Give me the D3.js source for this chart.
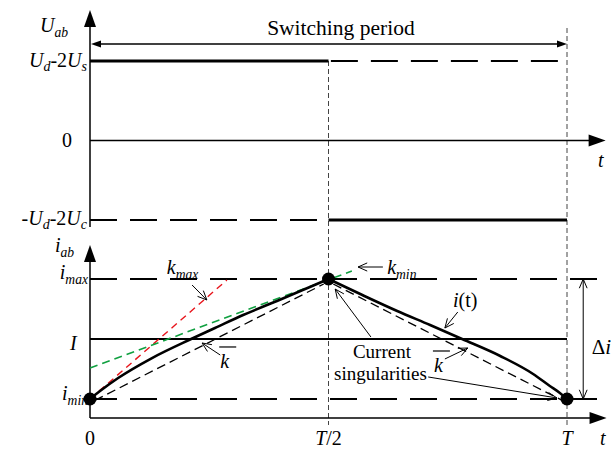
<!DOCTYPE html>
<html>
<head>
<meta charset="utf-8">
<script src="https://cdn.jsdelivr.net/npm/d3@7"></script>
<style>
  body { margin: 0; background: #fff; }
  svg { display: block; }
  text { font-family: "Liberation Serif", "Times New Roman", serif; fill: #000; }
</style>
</head>
<body>
<svg id="chart" width="611" height="449"></svg>
<script>
// ---- data -------------------------------------------------------------
// time as a fraction of the switching period T
const timeTicks = [0, 0.5, 1];
const timeTickLabels = [["", "0"], ["T", "/2"], ["T", ""]];

// bridge voltage: +1 = U_d-2U_s, 0, -1 = -U_d-2U_c
const voltageLevels = [1, 0, -1];
const highInterval = [0, 0.5];   // U_d-2U_s applied
const lowInterval = [0.5, 1];    // -U_d-2U_c applied

// current levels: i_min, I, i_max (normalised)
const currentLevels = [-1, 0, 1];

// i(t) during the rising half
const currentRise = [
  [0.000, -1.000], [0.021, -0.867], [0.059, -0.650], [0.130, -0.317],
  [0.212, 0.000], [0.262, 0.183], [0.321, 0.400], [0.392, 0.633],
  [0.461, 0.867], [0.500, 1.000]
];
// i(t) during the falling half
const currentFall = [
  [0.500, 1.000], [0.571, 0.733], [0.644, 0.467], [0.713, 0.233],
  [0.780, 0.000], [0.860, -0.283], [0.929, -0.583], [0.964, -0.783],
  [0.985, -0.900], [1.000, -1.000]
];

// slopes: k_max (initial tangent), k_min (tangent at the peak), mean slope chords
const kMaxLine = [[0, -1], [0.287, 0.983]];
const kMinLine = [[0, -0.483], [0.549, 1.133]];
const kMeanRise = [[0.01, -0.99], [0.49, 0.95]];
const kMeanFall = [[0.51, 0.95], [0.99, -0.99]];

// current singularities (start, peak and end of period)
const singularities = [[0, -1], [0.5, 1], [1, -1]];

// ---- scales -----------------------------------------------------------
const svg = d3.select("#chart");
const x = d3.scaleLinear().domain([0, 1]).range([90, 567]);
const yU = d3.scaleLinear().domain([-1, 1]).range([220, 61]);
const yI = d3.scaleLinear().domain([-1, 1]).range([399, 279]);

const lineU = d3.line().x(d => x(d[0])).y(d => yU(d[1]));
const lineI = d3.line().x(d => x(d[0])).y(d => yI(d[1]));
const curveI = d3.line().x(d => x(d[0])).y(d => yI(d[1])).curve(d3.curveMonotoneX);

// ---- helpers ----------------------------------------------------------
function filledArrow(g, x1, y1, x2, y2, len, half) {
  const a = Math.atan2(y2 - y1, x2 - x1);
  const bx = x2 - len * Math.cos(a), by = y2 - len * Math.sin(a);
  const px = -Math.sin(a) * half, py = Math.cos(a) * half;
  g.append("path")
    .attr("d", `M${x2},${y2}L${bx + px},${by + py}L${bx - px},${by - py}Z`)
    .attr("fill", "#000");
}
function openHead(g, x1, y1, x2, y2, len, ang, w) {
  const a = Math.atan2(y2 - y1, x2 - x1);
  const p1 = [x2 - len * Math.cos(a - ang), y2 - len * Math.sin(a - ang)];
  const p2 = [x2 - len * Math.cos(a + ang), y2 - len * Math.sin(a + ang)];
  g.append("path")
    .attr("d", `M${p1[0]},${p1[1]}L${x2},${y2}L${p2[0]},${p2[1]}`)
    .attr("fill", "none").attr("stroke", "#000").attr("stroke-width", w || 1);
}
function pointer(g, from, to, scaleY) {
  const x1 = x(from[0]), y1 = scaleY(from[1]), x2 = x(to[0]), y2 = scaleY(to[1]);
  g.append("line").attr("x1", x1).attr("y1", y1).attr("x2", x2).attr("y2", y2)
    .attr("stroke", "#000").attr("stroke-width", 1);
  openHead(g, x1, y1, x2, y2, 10, 0.42, 1);
}
// label with italic main symbol and subscript
function subLabel(g, px, py, main, sub, anchor, size) {
  const fs = size || 20;
  const t = g.append("text").attr("x", px).attr("y", py)
    .attr("text-anchor", anchor || "start").attr("font-size", fs);
  t.append("tspan").attr("font-style", "italic").text(main);
  if (sub) t.append("tspan").attr("font-style", "italic")
    .attr("font-size", fs * 0.68).attr("dy", 5).text(sub);
  return t;
}

const g = svg.append("g");

// ---- vertical dashed period markers ---------------------------------
g.append("line").attr("x1", x(0.5)).attr("x2", x(0.5))
  .attr("y1", yU(1)).attr("y2", yI(-1.433))
  .attr("stroke", "#444").attr("stroke-width", 1).attr("stroke-dasharray", "5,3");
g.append("line").attr("x1", x(1)).attr("x2", x(1))
  .attr("y1", yU(1.415)).attr("y2", yI(-1.433))
  .attr("stroke", "#444").attr("stroke-width", 1).attr("stroke-dasharray", "5,3");

// ---- top panel: bridge voltage -------------------------------------
const axU = g.append("g");
axU.append("line").attr("x1", x(0)).attr("x2", x(0))
  .attr("y1", yU(-1.088)).attr("y2", yU(1.59)).attr("stroke", "#000").attr("stroke-width", 1.5);
filledArrow(axU, x(0), yU(0), x(0), yU(1.642), 17, 6);
axU.append("line").attr("x1", x(0)).attr("x2", x(1.05))
  .attr("y1", yU(0)).attr("y2", yU(0)).attr("stroke", "#000").attr("stroke-width", 1.5);
filledArrow(axU, x(0), yU(0), x(1.081), yU(0), 17, 6);

// high level: solid while applied, dashed afterwards
g.append("path").attr("d", lineU([[highInterval[0], voltageLevels[0]], [highInterval[1], voltageLevels[0]]]))
  .attr("stroke", "#000").attr("stroke-width", 3).attr("fill", "none");
g.append("path").attr("d", lineU([[highInterval[1] + 0.005, voltageLevels[0]], [0.99, voltageLevels[0]]]))
  .attr("stroke", "#000").attr("stroke-width", 1.8).attr("fill", "none").attr("stroke-dasharray", "27,13");
// low level: dashed before, solid while applied
g.append("path").attr("d", lineU([[0, voltageLevels[2]], [lowInterval[0], voltageLevels[2]]]))
  .attr("stroke", "#000").attr("stroke-width", 1.8).attr("fill", "none").attr("stroke-dasharray", "27,13");
g.append("path").attr("d", lineU([[lowInterval[0], voltageLevels[2]], [lowInterval[1], voltageLevels[2]]]))
  .attr("stroke", "#000").attr("stroke-width", 3).attr("fill", "none");

// switching period span
const sp = g.append("g");
sp.append("line").attr("x1", x(0) + 4).attr("x2", x(1) - 4)
  .attr("y1", yU(1.214)).attr("y2", yU(1.214)).attr("stroke", "#000").attr("stroke-width", 1.3);
filledArrow(sp, x(0.5), yU(1.214), x(0) + 1, yU(1.214), 10, 3.5);
filledArrow(sp, x(0.5), yU(1.214), x(1), yU(1.214), 10, 3.5);
sp.append("text").attr("x", x(0.526)).attr("y", yU(1.327)).attr("text-anchor", "middle")
  .attr("font-size", 21.5).text("Switching period");

// top panel labels
subLabel(g, 40, 32, "U", "ab");
(function () {
  const t = g.append("text").attr("x", 87).attr("y", 67).attr("text-anchor", "end").attr("font-size", 20);
  t.append("tspan").attr("font-style", "italic").text("U");
  t.append("tspan").attr("font-style", "italic").attr("font-size", 14).attr("dy", 4).text("d");
  t.append("tspan").attr("dy", -4).text("-2");
  t.append("tspan").attr("font-style", "italic").text("U");
  t.append("tspan").attr("font-style", "italic").attr("font-size", 14).attr("dy", 4).text("s");
})();
g.append("text").attr("x", 67).attr("y", 147).attr("text-anchor", "middle").attr("font-size", 20).text("0");
(function () {
  const t = g.append("text").attr("x", 87).attr("y", 225).attr("text-anchor", "end").attr("font-size", 20);
  t.append("tspan").text("-");
  t.append("tspan").attr("font-style", "italic").text("U");
  t.append("tspan").attr("font-style", "italic").attr("font-size", 14).attr("dy", 4).text("d");
  t.append("tspan").attr("dy", -4).text("-2");
  t.append("tspan").attr("font-style", "italic").text("U");
  t.append("tspan").attr("font-style", "italic").attr("font-size", 14).attr("dy", 4).text("c");
})();
g.append("text").attr("x", 598).attr("y", 167).attr("font-size", 20).attr("font-style", "italic").text("t");

// ---- bottom panel: current ------------------------------------------
const axI = g.append("g");
axI.append("line").attr("x1", x(0)).attr("x2", x(0))
  .attr("y1", yI(-1.317)).attr("y2", yI(1.45)).attr("stroke", "#000").attr("stroke-width", 1.5);
filledArrow(axI, x(0), yI(0), x(0), yI(1.567), 17, 6);
axI.append("line").attr("x1", x(0)).attr("x2", x(1.05))
  .attr("y1", yI(-1.317)).attr("y2", yI(-1.317)).attr("stroke", "#000").attr("stroke-width", 1.5);
filledArrow(axI, x(0), yI(-1.317), x(1.083), yI(-1.317), 17, 6);

// current levels: i_max and i_min dashed, I solid
[currentLevels[0], currentLevels[2]].forEach(v => {
  g.append("path").attr("d", lineI([[0, v], [1.072, v]]))
    .attr("stroke", "#000").attr("stroke-width", 1.8).attr("fill", "none").attr("stroke-dasharray", "27,13");
});
g.append("path").attr("d", lineI([[0, currentLevels[1]], [1, currentLevels[1]]]))
  .attr("stroke", "#000").attr("stroke-width", 2).attr("fill", "none");

// slope construction lines
g.append("path").attr("d", lineI(kMaxLine)).attr("stroke", "#e8141b").attr("stroke-width", 1.4)
  .attr("fill", "none").attr("stroke-dasharray", "7,5");
g.append("path").attr("d", lineI(kMinLine)).attr("stroke", "#10a040").attr("stroke-width", 1.6)
  .attr("fill", "none").attr("stroke-dasharray", "8,5");
[kMeanRise, kMeanFall].forEach(seg => {
  g.append("path").attr("d", lineI(seg)).attr("stroke", "#000").attr("stroke-width", 1.3)
    .attr("fill", "none").attr("stroke-dasharray", "9,5")
    .attr("transform", "translate(0,2)");
});

// current waveform
g.append("path").attr("d", curveI(currentRise)).attr("stroke", "#000").attr("stroke-width", 2.6).attr("fill", "none");
g.append("path").attr("d", curveI(currentFall)).attr("stroke", "#000").attr("stroke-width", 2.6).attr("fill", "none");

g.selectAll("circle.sing").data(singularities).join("circle").attr("class", "sing")
  .attr("cx", d => x(d[0])).attr("cy", d => yI(d[1])).attr("r", 6.5).attr("fill", "#000");

// Δi span
const di = g.append("g");
di.append("line").attr("x1", x(1.034)).attr("x2", x(1.034)).attr("y1", yI(1)).attr("y2", yI(-1))
  .attr("stroke", "#000").attr("stroke-width", 1);
openHead(di, x(1.034), yI(0), x(1.034), yI(1), 10, 0.4, 1);
openHead(di, x(1.034), yI(0), x(1.034), yI(-1), 10, 0.4, 1);
(function () {
  const t = di.append("text").attr("x", x(1.052)).attr("y", yI(-0.25)).attr("font-size", 21);
  t.append("tspan").text("Δ");
  t.append("tspan").attr("font-style", "italic").text("i");
})();

// annotations
const an = g.append("g");
pointer(an, [0.214, 0.9], [0.245, 0.65], yI);
pointer(an, [0.273, -0.267], [0.235, -0.067], yI);
pointer(an, [0.614, 1.2], [0.562, 1.2], yI);
pointer(an, [0.771, 0.45], [0.744, 0.183], yI);
pointer(an, [0.744, -0.333], [0.792, -0.15], yI);
pointer(an, [0.589, 0.033], [0.514, 0.833], yI);
pointer(an, [0.709, -0.633], [0.979, -0.983], yI);

subLabel(an, x(0.161), yI(1.083), "k", "max");
subLabel(an, x(0.623), yI(1.083), "k", "min");
(function () {
  const t = an.append("text").attr("x", x(0.761)).attr("y", yI(0.533)).attr("font-size", 20);
  t.append("tspan").attr("font-style", "italic").text("i");
  t.append("tspan").text("(t)");
})();
[[0.273, -0.483], [0.721, -0.55]].forEach(p => {
  an.append("text").attr("x", x(p[0])).attr("y", yI(p[1])).attr("font-size", 20)
    .attr("font-style", "italic").text("k");
  an.append("line").attr("x1", x(p[0]) - 1).attr("x2", x(p[0]) + 16)
    .attr("y1", yI(p[1]) - 21).attr("y2", yI(p[1]) - 21).attr("stroke", "#000").attr("stroke-width", 1.2);
});
an.append("text").attr("x", x(0.612)).attr("y", yI(-0.317)).attr("text-anchor", "middle")
  .attr("font-size", 19).text("Current");
an.append("text").attr("x", x(0.609)).attr("y", yI(-0.683)).attr("text-anchor", "middle")
  .attr("font-size", 19).text("singularities");

// current panel labels
subLabel(g, 55, 252, "i", "ab");
subLabel(g, 88, 279, "i", "max", "end");
subLabel(g, 88, 400, "i", "min", "end");
g.append("text").attr("x", 70).attr("y", 350).attr("font-size", 20).attr("font-style", "italic").text("I");

// time tick labels
timeTicks.forEach((t, i) => {
  const lab = timeTickLabels[i];
  const tx = g.append("text").attr("x", x(t)).attr("y", 445).attr("text-anchor", "middle").attr("font-size", 20);
  if (lab[0]) tx.append("tspan").attr("font-style", "italic").text(lab[0]);
  if (lab[1]) tx.append("tspan").text(lab[1]);
});
g.append("text").attr("x", 600).attr("y", 445).attr("font-size", 20).attr("font-style", "italic").text("t");
</script>
</body>
</html>
